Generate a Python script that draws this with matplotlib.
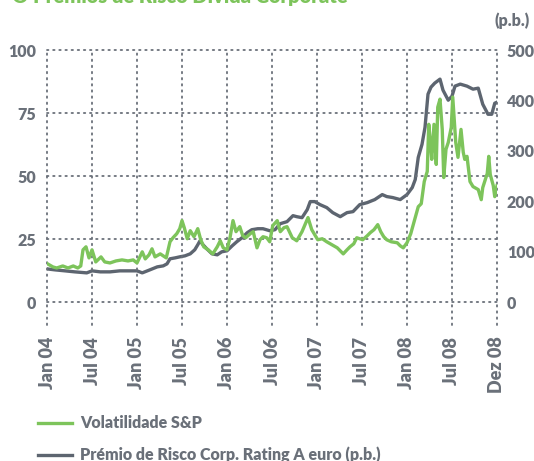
import matplotlib
matplotlib.use("Agg")
import matplotlib.pyplot as plt
from matplotlib.lines import Line2D

# ---- data (x in months since Jan 2004; tick spacing is uniform half-years) ----
tick_pos = [0, 6, 12, 18, 24, 30, 36, 42, 48, 54, 60]
tick_labels = ["Jan 04", "Jul 04", "Jan 05", "Jul 05", "Jan 06", "Jul 06",
               "Jan 07", "Jul 07", "Jan 08", "Jul 08", "Dez 08"]

vol_x = [0.1, 0.8, 1.3, 2.1, 2.8, 3.5, 4.1, 4.5, 4.8, 5.2, 5.6, 6.0, 6.5, 7.2, 7.7, 8.4,
         9.2, 10.0, 10.8, 11.5, 12.0, 12.7, 13.1, 13.6, 14.0, 14.4, 15.1, 15.9, 16.4, 16.8,
         17.3, 17.7, 18.0, 18.3, 18.7, 19.1, 19.6, 20.1, 20.5, 20.9, 21.5, 22.1, 22.7, 23.1,
         23.5, 24.0, 24.4, 24.8, 25.2, 25.7, 26.1, 26.5, 27.1, 27.5, 28.0, 28.4, 28.8, 29.3,
         29.7, 30.1, 30.7, 31.1, 31.6, 32.0, 32.7, 33.3, 34.0, 34.4, 34.8, 35.3, 36.1, 36.7,
         37.3, 38.0, 38.7, 39.5, 40.0, 40.4, 40.9, 41.3, 42.1, 42.7, 43.1, 43.6, 44.1, 44.5,
         44.9, 45.3, 45.9, 46.7, 47.1, 47.5, 48.0, 48.5, 49.1, 49.5, 49.9, 50.3, 50.7, 50.9,
         51.2, 51.3, 51.6, 51.9, 52.1, 52.4, 52.7, 52.9, 53.2, 53.5, 53.9, 54.1, 54.5, 54.8,
         55.2, 55.5, 55.7, 56.0, 56.4, 56.8, 57.5, 57.9, 58.1, 58.7, 58.9, 59.1, 59.5, 59.7, 60.0]
vol_y = [15.1, 13.9, 13.5, 14.3, 13.5, 14.3, 13.5, 14.3, 20.7, 21.9, 17.5, 20.7, 15.9, 17.9, 15.9, 15.5,
         16.3, 16.7, 16.3, 16.7, 15.5, 19.9, 17.1, 18.7, 21.1, 17.9, 19.1, 17.5, 23.9, 25.5,
         27.1, 29.1, 32.3, 29.5, 25.1, 28.3, 25.9, 29.1, 24.7, 21.9, 20.7, 19.1, 21.9, 24.3,
         21.5, 20.7, 25.5, 32.3, 27.9, 29.9, 26.3, 25.5, 27.1, 27.9, 21.5, 24.7, 25.9, 25.5,
         23.9, 30.3, 32.3, 27.9, 29.5, 29.9, 25.5, 24.3, 27.9, 30.7, 33.5, 28.7, 24.7, 25.1,
         23.9, 22.7, 21.5, 19.1, 20.7, 21.9, 23.1, 25.5, 24.7, 26.3, 27.5, 28.7, 30.7, 27.9,
         25.9, 24.7, 23.9, 23.5, 22.3, 21.5, 23.5, 27.1, 33.5, 37.8, 39.0, 47.8, 51.8, 70.5,
         60.6, 56.6, 70.5, 54.6, 77.3, 80.5, 68.5, 49.4, 60.6, 63.3, 69.3, 81.3, 63.3, 57.4,
         68.5, 59.4, 56.6, 57.8, 47.8, 45.8, 44.6, 40.6, 45.4, 51.0, 57.8, 50.6, 46.2, 41.8, 46.2]

spr_x = [0.0, 1.1, 2.4, 3.7, 5.3, 6.0, 7.1, 8.4, 9.7, 11.1, 12.0, 12.7, 13.7, 14.7, 15.5, 16.0,
         16.4, 17.1, 17.7, 18.4, 19.1, 19.7, 20.1, 20.4, 20.8, 21.3, 22.0, 22.7, 23.3, 24.0,
         24.7, 25.3, 26.0, 26.7, 27.3, 28.1, 28.8, 29.7, 30.4, 31.1, 32.0, 32.8, 33.3, 34.0,
         34.7, 35.1, 35.7, 36.4, 37.3, 38.1, 39.1, 40.0, 40.8, 41.7, 42.7, 43.7, 44.7, 45.3,
         46.1, 47.1, 48.0, 48.7, 49.1, 49.5, 50.0, 50.4, 50.8, 51.2, 51.7, 52.4, 52.8, 53.5,
         54.0, 54.4, 55.1, 56.0, 56.8, 57.5, 58.1, 58.8, 59.3, 59.7, 60.0]
spr_y = [65.7, 63.7, 61.8, 59.8, 57.8, 61.8, 59.8, 59.8, 61.8, 61.8, 61.8, 57.8, 63.7, 69.7, 71.7, 75.7,
         85.7, 87.6, 89.6, 91.6, 95.6, 103.6, 113.5, 121.5, 113.5, 105.6, 95.6, 93.6, 99.6, 101.6,
         111.6, 119.5, 127.5, 137.5, 143.4, 145.4, 145.4, 141.4, 143.4, 155.4, 159.4, 171.3, 169.3, 167.3,
         183.3, 199.2, 199.2, 193.2, 187.3, 177.3, 169.3, 177.3, 179.3, 193.2, 197.2, 203.2, 213.1, 209.2,
         207.2, 203.2, 213.1, 227.1, 243.0, 286.9, 312.7, 346.6, 412.4, 426.3, 434.3, 442.2, 420.3, 400.4,
         408.4, 428.3, 432.3, 428.3, 422.3, 424.3, 392.4, 372.5, 372.5, 394.4, 396.4]

left_ticks = [0, 25, 50, 75, 100]
right_ticks = [0, 100, 200, 300, 400, 500]
legend_labels = ["Volatilidade S&P", "Prémio de Risco Corp. Rating A euro (p.b.)"]
title = "O Prémios de Risco Dívida Corporate"

# ---- style ----
GREEN = "#7dc45b"
DARK = "#5d6570"
TXT = "#6a7079"
FONT = "Lato"

W, H = 534, 461
fig = plt.figure(figsize=(W / 100, H / 100), dpi=100)
L, R, T, B = 47, 497, 50, 302
ax = fig.add_axes([L / W, 1 - B / H, (R - L) / W, (B - T) / H])  # spread (right axis)
ax2 = ax.twinx()  # volatility (left axis), drawn on top

for a in (ax, ax2):
    for s in a.spines.values():
        s.set_visible(False)
    a.set_xlim(0, 60)
    a.tick_params(length=0)

ax.set_ylim(0, 500)
ax2.set_ylim(0, 100)
ax.yaxis.tick_right()
ax2.yaxis.tick_left()
ax.set_yticks(right_ticks)
ax2.set_yticks(left_ticks)
ax.tick_params(axis="y", pad=7)
ax2.tick_params(axis="y", pad=8)

for lab in ax.get_yticklabels() + ax2.get_yticklabels():
    lab.set_fontfamily(FONT)
    lab.set_fontweight("heavy")
    lab.set_fontsize(11.5)
    lab.set_color(TXT)

ax.set_xticks(tick_pos)
ax.set_xticklabels(tick_labels, rotation=90, fontfamily=FONT, fontweight="heavy",
                   fontsize=13, color=TXT, va="top", ha="center")
ax.tick_params(axis="x", pad=25)

# dotted grid
dot = dict(color=TXT, linewidth=1.3, linestyle=(0, (0.8, 2.6)), dash_capstyle="round")
below = -23 / (B - T)
for v in left_ticks:
    ax2.axhline(v, zorder=1, clip_on=False, **dot)
for p in tick_pos:
    ax2.axvline(p, ymin=below, ymax=1, zorder=1, clip_on=False, **dot)

ax.plot(spr_x, spr_y, color=DARK, linewidth=2.4, solid_joinstyle="round", zorder=3)
ax2.plot(vol_x, vol_y, color=GREEN, linewidth=2.4, solid_joinstyle="round", zorder=4)

# unit label
fig.text(530 / W, 1 - 21 / H, "(p.b.)", ha="right", va="center", fontfamily=FONT,
         fontweight="heavy", fontsize=11.5, color=TXT)

# title (cut off at top, as in the source)
fig.text(12 / W, 1 - 3 / H, title, ha="left", va="baseline", fontfamily=FONT,
         fontweight="heavy", fontsize=14.5, color=GREEN)

# legend
for i, (lab, col) in enumerate(zip(legend_labels, [GREEN, DARK])):
    yy = 1 - (423 + 32 * i) / H
    fig.add_artist(Line2D([38 / W, 72 / W], [yy, yy], color=col, linewidth=2.4,
                          transform=fig.transFigure))
    fig.text(80 / W, yy, lab, ha="left", va="center", fontfamily=FONT,
             fontweight="heavy", fontsize=11.5, color=TXT)

fig.savefig("out.png", dpi=100)
